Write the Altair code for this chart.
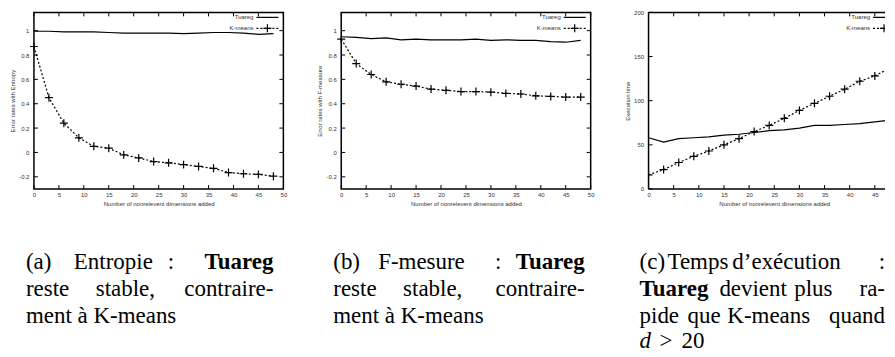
import altair as alt
import pandas as pd

# ---------------- data ----------------
X = list(range(0, 49, 3))
ent_tuareg = [0.995, 0.995, 0.99, 0.99, 0.99, 0.985, 0.98, 0.98, 0.98, 0.98, 0.975, 0.98, 0.985, 0.985, 0.98, 0.97, 0.975]
ent_kmeans = [0.87, 0.45, 0.24, 0.12, 0.05, 0.035, -0.02, -0.045, -0.075, -0.085, -0.10, -0.115, -0.13, -0.165, -0.175, -0.18, -0.195]
fm_tuareg = [0.95, 0.945, 0.935, 0.94, 0.925, 0.93, 0.925, 0.925, 0.925, 0.93, 0.92, 0.925, 0.92, 0.92, 0.91, 0.905, 0.92]
fm_kmeans = [0.93, 0.73, 0.64, 0.58, 0.56, 0.545, 0.52, 0.51, 0.50, 0.50, 0.495, 0.485, 0.48, 0.465, 0.46, 0.455, 0.455]
time_tuareg = [58, 53, 57, 58, 59, 61, 62, 64, 66, 67, 69, 72, 72, 73, 74, 76, 78]
time_kmeans = [16, 22, 30, 37, 43, 50, 57, 65, 72, 80, 89, 97, 105, 113, 122, 128, 137]

x_ticks = list(range(0, 51, 5))
err_ticks = [-0.2, 0, 0.2, 0.4, 0.6, 0.8, 1]
time_ticks = [0, 50, 100, 150, 200]

x_title = "Number of nonrelevent dimensions added"
y_titles = ["Error rates with Entropy", "Error rates with F-measure", "Execution time"]
legend_labels = ["Tuareg", "K-means"]

captions = [
    [  # (a)
        [("(a)", -8, "left", "normal"), ("Entropie", 40, "left", "normal"),
         (":", 134, "left", "normal"), ("Tuareg", 240, "right", "bold")],
        [("reste", -8, "left", "normal"), ("stable,", 62, "left", "normal"),
         ("contraire-", 240, "right", "normal")],
        [("ment à K-means", -8, "left", "normal")],
    ],
    [  # (b)
        [("(b)", -8, "left", "normal"), ("F-mesure", 37, "left", "normal"),
         (":", 154, "left", "normal"), ("Tuareg", 244, "right", "bold")],
        [("reste", -8, "left", "normal"), ("stable,", 62, "left", "normal"),
         ("contraire-", 244, "right", "normal")],
        [("ment à K-means", -8, "left", "normal")],
    ],
    [  # (c)
        [("(c)", -9, "left", "normal"), ("Temps", 19, "left", "normal"),
         ("d’exécution", 84, "left", "normal"), (":", 237, "right", "normal")],
        [("Tuareg", -9, "left", "bold"), ("devient", 71, "left", "normal"),
         ("plus", 146, "left", "normal"), ("ra-", 237, "right", "normal")],
        [("pide", -9, "left", "normal"), ("que", 39, "left", "normal"),
         ("K-means", 79, "left", "normal"), ("quand", 237, "right", "normal")],
        [("d", -9, "left", "italic"), (">", 11, "left", "normal"), ("20", 33, "left", "normal")],
    ],
]

# ---------------- styling ----------------
H = 177
SANS = "Liberation Sans"
SERIF = "Liberation Serif"
CROSS = "M-1,0L1,0M0,-1L0,1"
TXT = "#333333"
CAP_Y = [257, 284, 311, 336]
dummy = pd.DataFrame({"_": [0]})


def panel(W, full_w, xmax, xt, tuareg, kmeans, ydom, yticks, ytitle, caption, cut=False):
    xs = alt.Scale(domain=[0, xmax], nice=False, zero=False)
    ys = alt.Scale(domain=ydom, nice=False, zero=False)
    x_enc = alt.X("x:Q", scale=xs, axis=alt.Axis(
        values=xt, title=x_title, ticks=False, tickSize=0, domain=False, grid=False,
        labelFontSize=6, titleFontSize=6, labelFont=SANS, titleFont=SANS,
        labelColor=TXT, titleColor=TXT, titleFontWeight="normal",
        labelPadding=3, titlePadding=3, labelFlush=False, labelOverlap=False,
        titleX=full_w / 2))
    y_enc = alt.Y("y:Q", scale=ys, axis=alt.Axis(
        values=yticks, title=ytitle, ticks=False, tickSize=0, domain=False, grid=False,
        labelFontSize=6, titleFontSize=6, labelFont=SANS, titleFont=SANS,
        labelColor=TXT, titleColor=TXT, titleFontWeight="normal",
        labelPadding=5, titlePadding=3.5, labelFlush=False, labelOverlap=False,
        labelExpr="'' + datum.value"))

    tdf = pd.DataFrame({"x": X, "y": tuareg})
    kdf = pd.DataFrame({"x": X, "y": kmeans})
    xtdf = pd.DataFrame({"x": xt})
    ytdf = pd.DataFrame({"y": yticks})
    c = bool(cut)

    layers = [
        alt.Chart(tdf).mark_line(color="black", strokeWidth=1.2, clip=c).encode(x=x_enc, y=y_enc),
        alt.Chart(kdf).mark_line(color="black", strokeWidth=1.2, strokeDash=[2, 2], clip=c).encode(
            x=x_enc, y=y_enc),
        alt.Chart(kdf).mark_point(shape=CROSS, size=64, filled=False, color="black",
                                  strokeWidth=1.2, opacity=1, clip=c).encode(x=x_enc, y=y_enc),
        alt.Chart(xtdf).mark_rule(color="black", strokeWidth=1).encode(
            x=x_enc, y=alt.value(H), y2=alt.value(H - 4)),
        alt.Chart(xtdf).mark_rule(color="black", strokeWidth=1).encode(
            x=x_enc, y=alt.value(0), y2=alt.value(4)),
        alt.Chart(ytdf).mark_rule(color="black", strokeWidth=1).encode(
            y=y_enc, x=alt.value(0), x2=alt.value(4)),
        # legend
        alt.Chart(dummy).mark_rule(color="black", strokeWidth=1.2, clip=c).encode(
            x=alt.value(full_w - 27), x2=alt.value(full_w - 5), y=alt.value(5)),
        alt.Chart(dummy).mark_rule(color="black", strokeWidth=1.2, strokeDash=[2, 2], clip=c).encode(
            x=alt.value(full_w - 27), x2=alt.value(full_w - 5), y=alt.value(16)),
        alt.Chart(dummy).mark_point(shape=CROSS, size=64, filled=False, color="black",
                                    strokeWidth=1.2, opacity=1, clip=c).encode(
            x=alt.value(full_w - 16), y=alt.value(16)),
    ]
    if cut:
        # frame drawn by hand: the right edge lies outside the picture
        layers += [
            alt.Chart(dummy).mark_rule(color="black", strokeWidth=1.5).encode(
                x=alt.value(0), x2=alt.value(W), y=alt.value(0)),
            alt.Chart(dummy).mark_rule(color="black", strokeWidth=1.5).encode(
                x=alt.value(0), x2=alt.value(W), y=alt.value(H)),
            alt.Chart(dummy).mark_rule(color="black", strokeWidth=1.5).encode(
                x=alt.value(0), y=alt.value(0), y2=alt.value(H)),
        ]
    else:
        layers.append(alt.Chart(ytdf).mark_rule(color="black", strokeWidth=1).encode(
            y=y_enc, x=alt.value(W), x2=alt.value(W - 4)))
    for i, lab in enumerate(legend_labels):
        layers.append(alt.Chart(dummy).mark_text(
            align="right", baseline="middle", font=SANS, fontSize=6, color=TXT).encode(
            x=alt.value(full_w - 30), y=alt.value(5 + 11 * i), text=alt.value(lab)))
    # caption
    for li, line in enumerate(caption):
        for word, dx, align, style in line:
            kw = dict(align=align, baseline="alphabetic", font=SERIF, fontSize=23, color="black")
            if style == "bold":
                kw["fontWeight"] = "bold"
            if style == "italic":
                kw["fontStyle"] = "italic"
            layers.append(alt.Chart(dummy).mark_text(**kw).encode(
                x=alt.value(dx), y=alt.value(CAP_Y[li]), text=alt.value(word)))
    ch = alt.layer(*layers).properties(width=W, height=H)
    if cut:
        ch = ch.properties(view=alt.ViewBackground(stroke="transparent"))
    return ch


p1 = panel(250, 250, 50, x_ticks, ent_tuareg, ent_kmeans, [-0.3, 1.15], err_ticks, y_titles[0], captions[0])
p2 = panel(250, 250, 50, x_ticks, fm_tuareg, fm_kmeans, [-0.3, 1.15], err_ticks, y_titles[1], captions[1])
# third panel: only the part that fits in the picture (its right edge is cut off)
W3 = 237
p3 = panel(W3, 252, 50 * W3 / 252, x_ticks[:-1], time_tuareg, time_kmeans, [0, 200], time_ticks,
           y_titles[2], captions[2], cut=True)

chart = alt.hconcat(p1, p2, p3, spacing=58, bounds="flush", padding=0).configure_view(
    stroke="black", strokeWidth=1.5)

chart.save("out.html", embed_options={"renderer": "svg", "actions": False})
